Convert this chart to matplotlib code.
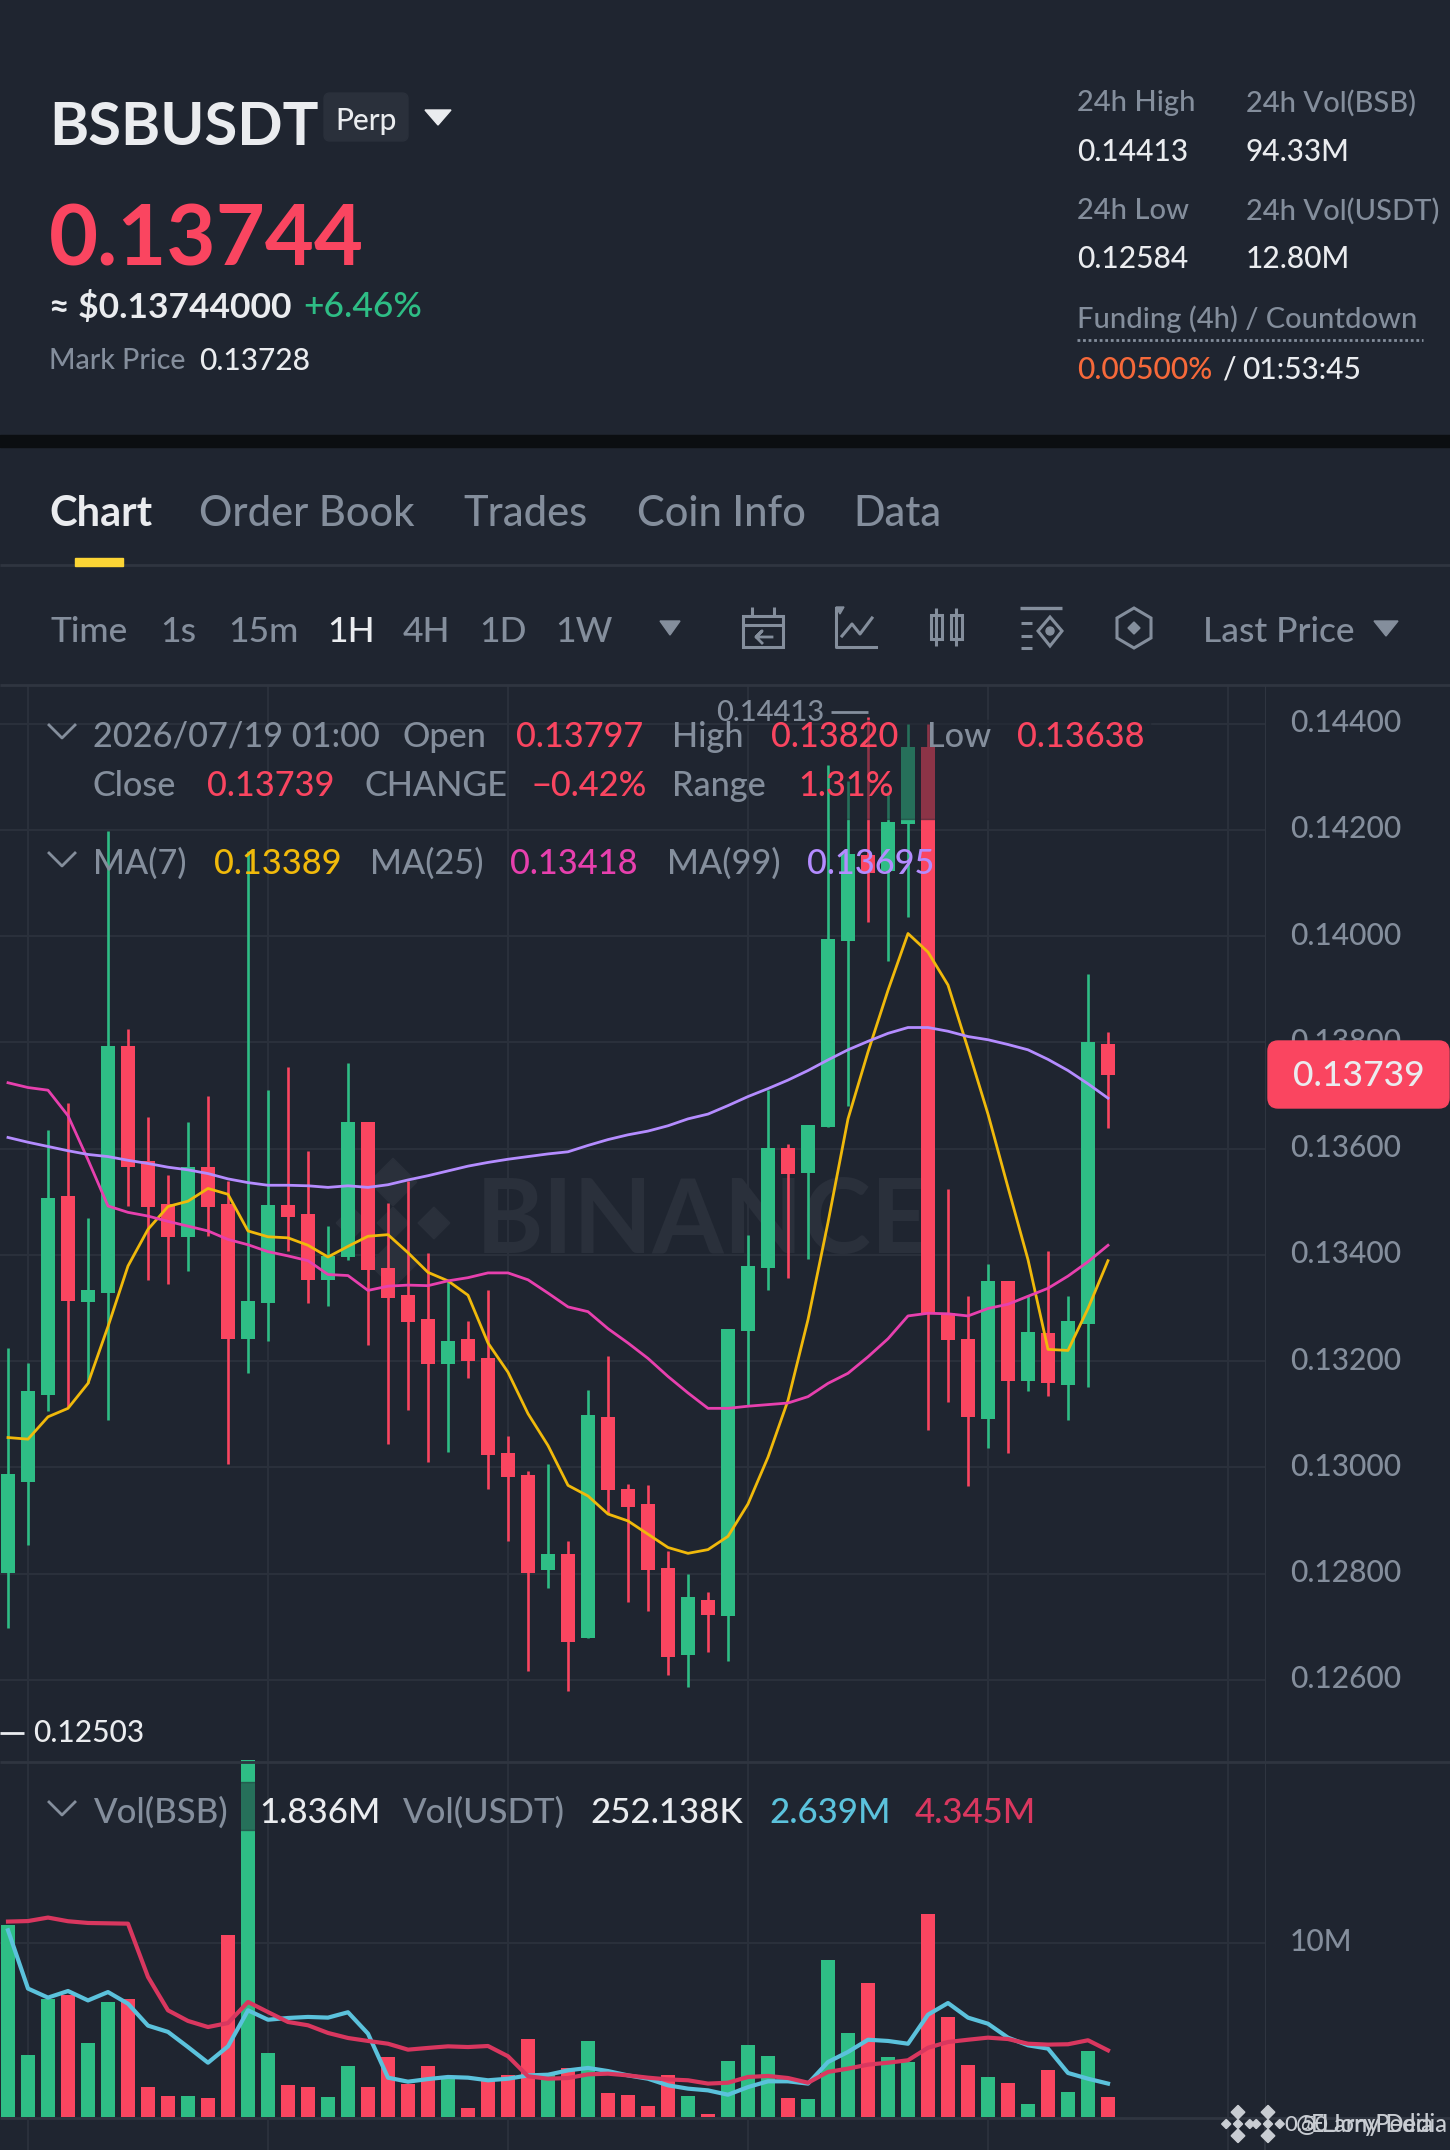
import matplotlib
matplotlib.use('Agg')
import matplotlib.pyplot as plt
from matplotlib.patches import Rectangle, FancyBboxPatch, Polygon, Circle
from matplotlib.transforms import ScaledTranslation

plt.rcParams['font.family'] = ['Lato', 'DejaVu Sans']

# candles, oldest first
opens = [0.12801, 0.12973, 0.13137, 0.13511, 0.13312, 0.13328, 0.13794, 0.13577, 0.13495, 0.13433,
         0.13565, 0.13496, 0.13242, 0.13309, 0.13493, 0.13477, 0.13352, 0.13395, 0.13651, 0.13375,
         0.13324, 0.13279, 0.13195, 0.13242, 0.13205, 0.13026, 0.12986, 0.12807, 0.12836, 0.12678,
         0.13095, 0.12960, 0.12931, 0.12810, 0.12646, 0.12751, 0.12720, 0.13256, 0.13375, 0.13601,
         0.13554, 0.13640, 0.13990, 0.14152, 0.14123, 0.14211, 0.14357, 0.13290, 0.13242, 0.13090,
         0.13351, 0.13162, 0.13253, 0.13154, 0.13269, 0.13797]
closes = [0.12988, 0.13143, 0.13507, 0.13313, 0.13333, 0.13794, 0.13565, 0.13490, 0.13434, 0.13565,
          0.13490, 0.13241, 0.13313, 0.13493, 0.13471, 0.13353, 0.13398, 0.13651, 0.13371, 0.13319,
          0.13274, 0.13195, 0.13237, 0.13201, 0.13023, 0.12981, 0.12801, 0.12836, 0.12671, 0.13099,
          0.12957, 0.12925, 0.12806, 0.12642, 0.12756, 0.12722, 0.13261, 0.13379, 0.13601, 0.13553,
          0.13645, 0.13995, 0.14154, 0.14119, 0.14215, 0.14357, 0.13290, 0.13239, 0.13094, 0.13350,
          0.13162, 0.13255, 0.13158, 0.13275, 0.13800, 0.13739]
highs = [0.13225, 0.13196, 0.13635, 0.13685, 0.13469, 0.14198, 0.13825, 0.13660, 0.13551, 0.13650,
         0.13699, 0.13539, 0.14160, 0.13710, 0.13754, 0.13596, 0.13454, 0.13762, 0.13651, 0.13498,
         0.13539, 0.13404, 0.13351, 0.13275, 0.13334, 0.13058, 0.12993, 0.13007, 0.12862, 0.13145,
         0.13210, 0.12968, 0.12966, 0.12843, 0.12800, 0.12765, 0.13261, 0.13437, 0.13710, 0.13609,
         0.13645, 0.14322, 0.14293, 0.14413, 0.14274, 0.14400, 0.14400, 0.13524, 0.13322, 0.13382,
         0.13351, 0.13322, 0.13408, 0.13322, 0.13928, 0.13820]
lows = [0.12698, 0.12853, 0.13106, 0.13114, 0.13158, 0.13089, 0.13492, 0.13353, 0.13345, 0.13369,
        0.13435, 0.13007, 0.13177, 0.13237, 0.13408, 0.13309, 0.13303, 0.13391, 0.13231, 0.13044,
        0.13108, 0.13010, 0.13029, 0.13168, 0.12960, 0.12862, 0.12616, 0.12773, 0.12578, 0.12678,
        0.12912, 0.12746, 0.12729, 0.12608, 0.12587, 0.12652, 0.12635, 0.13116, 0.13334, 0.13357,
        0.13392, 0.13640, 0.13680, 0.14026, 0.13954, 0.14037, 0.13070, 0.13123, 0.12964, 0.13036,
        0.13026, 0.13143, 0.13135, 0.13089, 0.13152, 0.13638]

ma7 = [0.13056, 0.13053, 0.13095, 0.13111, 0.13158, 0.13265, 0.13379, 0.13448, 0.13491, 0.13501,
       0.13525, 0.13514, 0.13445, 0.13434, 0.13432, 0.13418, 0.13396, 0.13416, 0.13435, 0.13438,
       0.13404, 0.13367, 0.13351, 0.13324, 0.13234, 0.13179, 0.13101, 0.13041, 0.12966, 0.12946,
       0.12912, 0.12899, 0.12874, 0.12849, 0.12838, 0.12845, 0.12870, 0.12931, 0.13019, 0.13126,
       0.13278, 0.13461, 0.13656, 0.13782, 0.13898, 0.14005, 0.13970, 0.13908, 0.13788, 0.13665,
       0.13527, 0.13391, 0.13222, 0.13220, 0.13299, 0.13389]
ma25 = [0.13724, 0.13715, 0.13710, 0.13662, 0.13579, 0.13492, 0.13480, 0.13473, 0.13463, 0.13454,
        0.13445, 0.13429, 0.13419, 0.13406, 0.13398, 0.13389, 0.13363, 0.13361, 0.13333, 0.13341,
        0.13343, 0.13342, 0.13351, 0.13357, 0.13366, 0.13366, 0.13353, 0.13328, 0.13302, 0.13293,
        0.13261, 0.13234, 0.13205, 0.13171, 0.13140, 0.13111, 0.13111, 0.13115, 0.13118, 0.13121,
        0.13133, 0.13158, 0.13177, 0.13208, 0.13242, 0.13285, 0.13290, 0.13289, 0.13285, 0.13299,
        0.13307, 0.13322, 0.13337, 0.13360, 0.13387, 0.13418]
ma99 = [0.13621, 0.13612, 0.13604, 0.13596, 0.13589, 0.13585, 0.13578, 0.13572, 0.13565, 0.13560,
        0.13553, 0.13543, 0.13536, 0.13531, 0.13531, 0.13530, 0.13527, 0.13530, 0.13527, 0.13532,
        0.13541, 0.13549, 0.13558, 0.13567, 0.13574, 0.13580, 0.13585, 0.13590, 0.13594, 0.13606,
        0.13617, 0.13626, 0.13633, 0.13643, 0.13656, 0.13665, 0.13681, 0.13698, 0.13713, 0.13729,
        0.13747, 0.13767, 0.13786, 0.13802, 0.13817, 0.13828, 0.13828, 0.13821, 0.13811, 0.13805,
        0.13796, 0.13786, 0.13768, 0.13747, 0.13722, 0.13695]

# volume in millions
volume = [11.03, 3.54, 6.80, 6.99, 4.27, 6.61, 6.80, 1.72, 1.19, 1.23, 1.11, 10.44, 20.5, 3.66,
          1.86, 1.70, 1.13, 2.95, 1.74, 3.45, 1.92, 2.95, 2.20, 0.50, 2.20, 2.43, 4.48, 2.39,
          2.84, 4.39, 1.40, 1.26, 0.61, 2.39, 1.19, 0.19, 3.22, 4.14, 3.52, 1.11, 1.05, 9.04,
          4.81, 7.72, 3.45, 3.16, 11.67, 5.75, 3.01, 2.28, 1.93, 0.75, 2.72, 1.46, 3.79, 1.13]
vol_ma5 = [10.73, 7.38, 6.86, 7.24, 6.70, 7.18, 6.51, 5.25, 4.89, 4.02, 3.12, 4.06, 6.13, 5.59,
           5.69, 5.75, 5.71, 6.02, 4.79, 2.26, 2.03, 2.18, 2.30, 2.26, 2.11, 2.20, 2.39, 2.43,
           2.68, 2.82, 2.64, 2.39, 2.20, 1.82, 1.63, 1.53, 1.28, 1.72, 2.05, 2.05, 1.92, 3.16,
           3.74, 4.44, 4.37, 4.21, 5.88, 6.55, 5.71, 5.36, 4.56, 4.12, 3.93, 2.53, 2.20, 1.92]
vol_ma10 = [11.23, 11.26, 11.46, 11.25, 11.15, 11.13, 11.11, 8.05, 6.13, 5.52, 5.17, 5.40, 6.61,
            6.03, 5.46, 5.27, 4.83, 4.54, 4.37, 4.21, 3.87, 3.97, 4.06, 4.02, 4.08, 3.49, 2.34,
            2.20, 2.24, 2.45, 2.49, 2.39, 2.26, 2.16, 2.11, 1.92, 1.97, 2.30, 2.36, 2.24, 1.97,
            2.59, 2.78, 3.01, 3.12, 3.26, 3.98, 4.31, 4.44, 4.56, 4.48, 4.21, 4.16, 4.18, 4.41, 3.83]

price_ticks = [0.144, 0.142, 0.140, 0.138, 0.136, 0.134, 0.132, 0.130, 0.128, 0.126]
time_grid = [1, 13, 25, 37, 49, 61]
tabs = ['Chart', 'Order Book', 'Trades', 'Coin Info', 'Data']
intervals = ['Time', '1s', '15m', '1H', '4H', '1D', '1W']

BG = '#1f2530'
GRID = '#2a303b'
LINE = '#2f3540'
GREY = '#848e9c'
WHITE = '#eaecef'
GREEN = '#2ebd85'
RED = '#fa4560'
W, H = 1450, 2150

fig = plt.figure(figsize=(14.5, 21.5), dpi=100, facecolor=BG)


def box(left, top, right, bottom):
    return [left / W, 1 - bottom / H, (right - left) / W, (bottom - top) / H]


def pixel_axes(z):
    a = fig.add_axes([0, 0, 1, 1], zorder=z)
    a.set_xlim(0, W)
    a.set_ylim(H, 0)
    a.axis('off')
    a.patch.set_alpha(0)
    return a


back = pixel_axes(1)
ui = pixel_axes(5)


def label(x, y, s, color=GREY, size=18, weight='medium', ha='left', target=None):
    (target or ui).text(x, y, s, color=color, fontsize=size, fontweight=weight, ha=ha, va='center', zorder=6)


def logo(a, cx, cy, r, color, z=2):
    # binance mark: one big chevron diamond split into five small ones
    for dx, dy, k in [(0, -0.62, 0.36), (-0.62, 0, 0.24), (0.62, 0, 0.24), (0, 0, 0.24), (0, 0.62, 0.36)]:
        px, py, s = cx + dx * r, cy + dy * r, k * r
        a.add_patch(Polygon([(px - s, py), (px, py - s), (px + s, py), (px, py + s)], color=color, zorder=z))


# watermark behind the candles
logo(back, 393, 1223, 66, '#2a303b')
label(476, 1223, 'BINANCE', color='#2a303b', size=74, weight='bold', target=back)

x = list(range(len(opens)))
up = [c >= o for o, c in zip(opens, closes)]
colors = [GREEN if u else RED for u in up]

# tick labels sit a little above their gridlines in the screenshot
tick_shift = ScaledTranslation(0, 3 / 100, fig.dpi_scale_trans)

# price panel, limits line up with the gridlines in the screenshot
ax = fig.add_axes(box(0, 686, 1265, 1761), zorder=2)
ax.patch.set_alpha(0)
ax.set_xlim(-0.4, 62.85)
ax.set_ylim(0.12447, 0.14471)
ax.vlines(x, lows, highs, colors=colors, linewidth=1.9, zorder=3)
ax.bar(x, [abs(c - o) for o, c in zip(opens, closes)], bottom=[min(o, c) for o, c in zip(opens, closes)],
       width=0.7, color=colors, zorder=3)
ax.plot(x, ma7, color='#f0b90b', linewidth=2.0, zorder=4)
ax.plot(x, ma25, color='#e740ae', linewidth=2.0, zorder=4)
ax.plot(x, ma99, color='#b48cff', linewidth=2.0, zorder=4)
ax.set_yticks(price_ticks)
ax.set_yticklabels(['%.5f' % p for p in price_ticks])
ax.set_xticks(time_grid)
ax.set_xticklabels([])
ax.yaxis.tick_right()
ax.tick_params(length=0, pad=18, labelcolor=GREY, labelsize=21.5)
for t in ax.get_yticklabels():
    t.set_transform(t.get_transform() + tick_shift)
    t.set_fontweight('medium')
ax.grid(True, color=GRID, linewidth=1.5)
ax.set_axisbelow(True)
for name, s in ax.spines.items():
    s.set_visible(name == 'right')
    s.set_color(LINE)

# volume panel
vx = fig.add_axes(box(0, 1762, 1265, 2117), zorder=2)
vx.patch.set_alpha(0)
vx.set_xlim(-0.4, 62.85)
vx.set_ylim(0, 20.4)
vx.bar(x, volume, width=0.7, color=colors, zorder=3, clip_on=False)
vx.plot(x, vol_ma5, color='#5bc2dc', linewidth=3.0, zorder=4)
vx.plot(x, vol_ma10, color='#d9375f', linewidth=3.0, zorder=4)
vx.set_yticks([10])
vx.set_yticklabels(['10M'])
vx.set_xticks(time_grid)
vx.set_xticklabels([])
vx.yaxis.tick_right()
vx.tick_params(length=0, pad=18, labelcolor=GREY, labelsize=21.5)
for t in vx.get_yticklabels():
    t.set_transform(t.get_transform() + tick_shift)
    t.set_fontweight('medium')
vx.grid(True, color=GRID, linewidth=1.5)
vx.set_axisbelow(True)
for name, s in vx.spines.items():
    s.set_visible(name == 'right')
    s.set_color(LINE)

# legend backdrops dim whatever runs under them
ui.add_patch(Rectangle((830, 720), 320, 99, color=BG, alpha=0.5, zorder=1))
ui.add_patch(Rectangle((235, 1782), 30, 48, color=BG, alpha=0.5, zorder=1))

# panel separators
ui.add_patch(Rectangle((0, 435), W, 12, color='#0b0e11'))
ui.hlines([565, 685, 1762, 2118], 0, W, color=LINE, linewidth=2)
ui.add_patch(Rectangle((75, 558), 48, 8, color='#fcd535', zorder=3))
# the time grid carries on below the volume panel
ui.vlines([28, 268, 508, 748, 988, 1228], 2118, H, color=GRID, linewidth=1.5)
ui.vlines(1265, 2118, H, color=LINE, linewidth=1.5)

# header
label(49, 128, 'BSBUSDT', WHITE, 43, 'bold')
ui.add_patch(FancyBboxPatch((328, 97), 76, 40, boxstyle='round,pad=4,rounding_size=6', color='#2a303b'))
label(366, 121, 'Perp', WHITE, 21.5, ha='center')
ui.add_patch(Polygon([(425, 110), (451, 110), (438, 125)], color=WHITE))
label(49, 241, '0.13744', RED, 61, 'bold')
label(49, 307, '≈ $0.13744000', WHITE, 25.5, 'bold')
label(303, 307, '+6.46%', GREEN, 25.5)
label(49, 361, 'Mark Price', GREY, 20.5)
label(199, 361, '0.13728', WHITE, 21.5)

label(1077, 103, '24h High', GREY, 21)
label(1246, 103, '24h Vol(BSB)', GREY, 21)
label(1077, 152, '0.14413', WHITE, 21.5)
label(1246, 152, '94.33M', WHITE, 21.5)
label(1077, 211, '24h Low', GREY, 21)
label(1246, 211, '24h Vol(USDT)', GREY, 21)
label(1077, 259, '0.12584', WHITE, 21.5)
label(1246, 259, '12.80M', WHITE, 21.5)
label(1077, 319, 'Funding (4h) / Countdown', GREY, 21)
ui.hlines(340, 1077, 1423, color=GREY, linewidth=2, linestyle=(0, (1, 1)))
label(1077, 370, '0.00500%', '#f6693a', 21.5)
label(1222, 370, '/', WHITE, 21.5)
label(1242, 370, '01:53:45', WHITE, 21.5)

# tabs
for name, tx in zip(tabs, [49, 199, 463, 637, 853]):
    label(tx, 514, name, WHITE if name == 'Chart' else GREY, 30, 'bold' if name == 'Chart' else 'medium')

# interval row
for name, tx in zip(intervals, [51, 160, 228, 327, 403, 479, 555]):
    label(tx, 632, name, WHITE if name == '1H' else GREY, 25.5)
ui.add_patch(Polygon([(660, 621), (680, 621), (670, 635)], color=GREY))
label(1203, 632, 'Last Price', GREY, 25.5)
ui.add_patch(Polygon([(1374, 621), (1398, 621), (1386, 636)], color=GREY))

# toolbar icons
icon = dict(fill=False, edgecolor=GREY, linewidth=2.2)
ui.add_patch(Rectangle((743, 616), 40, 31, **icon))
ui.hlines(625, 743, 783, color=GREY, linewidth=2.2)
ui.vlines([752, 774], 607, 616, color=GREY, linewidth=2.2)
ui.plot([772, 756, 762, 756, 762], [637, 637, 631, 637, 643], color=GREY, linewidth=2)
ui.plot([836, 836, 876], [608, 647, 647], color=GREY, linewidth=2.2)
ui.plot([842, 852, 860, 872], [636, 624, 634, 618], color=GREY, linewidth=2.2)
ui.add_patch(Polygon([(836, 607), (844, 607), (840, 614)], color=GREY))
ui.add_patch(Rectangle((931, 615), 11, 24, **icon))
ui.add_patch(Rectangle((951, 615), 11, 24, **icon))
ui.vlines([936.5, 956.5], 608, 646, color=GREY, linewidth=2.2, zorder=1)
ui.hlines(608, 1020, 1062, color=GREY, linewidth=2.4)
ui.hlines([623, 636, 648], 1021, 1032, color=GREY, linewidth=2.2)
ui.add_patch(Polygon([(1050, 617), (1062, 631), (1050, 646), (1038, 631)], **icon))
ui.add_patch(Circle((1050, 631), 4, color=GREY))
ui.add_patch(Polygon([(1134, 608), (1151, 618), (1151, 638), (1134, 648), (1117, 638), (1117, 618)], **icon))
ui.add_patch(Polygon([(1134, 622), (1140, 628), (1134, 634), (1128, 628)], color=GREY))

# legends over the chart
ui.plot([49, 62, 75], [725, 738, 725], color=GREY, linewidth=2)
ui.plot([49, 62, 75], [853, 866, 853], color=GREY, linewidth=2)
ui.plot([49, 62, 75], [1802, 1815, 1802], color=GREY, linewidth=2)
for tx, s in [(93, '2026/07/19 01:00'), (403, 'Open'), (672, 'High'), (927, 'Low'),
              (93, 'Close'), (365, 'CHANGE'), (672, 'Range')]:
    label(tx, 786 if s in ('Close', 'CHANGE', 'Range') else 737, s, GREY, 24.7)
for tx, yy, s in [(516, 737, '0.13797'), (771, 737, '0.13820'), (1017, 737, '0.13638'),
                  (207, 786, '0.13739'), (532, 786, '−0.42%'), (798, 786, '1.31%')]:
    label(tx, yy, s, RED, 24.7)
label(93, 864, 'MA(7)', GREY, 24.7)
label(214, 864, '0.13389', '#f0b90b', 24.7)
label(370, 864, 'MA(25)', GREY, 24.7)
label(510, 864, '0.13418', '#e740ae', 24.7)
label(667, 864, 'MA(99)', GREY, 24.7)
label(807, 864, '0.13695', '#b48cff', 24.7)
label(94, 1813, 'Vol(BSB)', GREY, 25)
label(259, 1813, '1.836M', WHITE, 25)
label(403, 1813, 'Vol(USDT)', GREY, 25)
label(590, 1813, '252.138K', WHITE, 25)
label(769, 1813, '2.639M', '#5bc2dc', 25)
label(915, 1813, '4.345M', '#d9375f', 25)

# high / low markers
label(716, 713, '0.14413', GREY, 21)
ui.hlines(712, 831, 868, color=GREY, linewidth=2)
ui.hlines(1733, 0, 24, color=WHITE, linewidth=2)
label(33, 1733, '0.12503', WHITE, 21.5)

# last price tag
ui.add_patch(FancyBboxPatch((1275, 1048), 167, 53, boxstyle='round,pad=7,rounding_size=10', color=RED, zorder=5))
label(1359, 1076, '0.13739', WHITE, 25.5, ha='center')

# screenshot watermark, two copies on top of each other
logo(ui, 1238, 2124, 19, '#c8ccd2', 6)
logo(ui, 1268, 2124, 19, '#c8ccd2', 6)
label(1284, 2125, '0.50', '#c8ccd2', 16)
label(1296, 2125, '@ LarryPedia', '#c8ccd2', 17)
label(1311, 2125, 'E Jony Dedia', '#c8ccd2', 17)

fig.savefig('out.png', dpi=100, facecolor=BG)
